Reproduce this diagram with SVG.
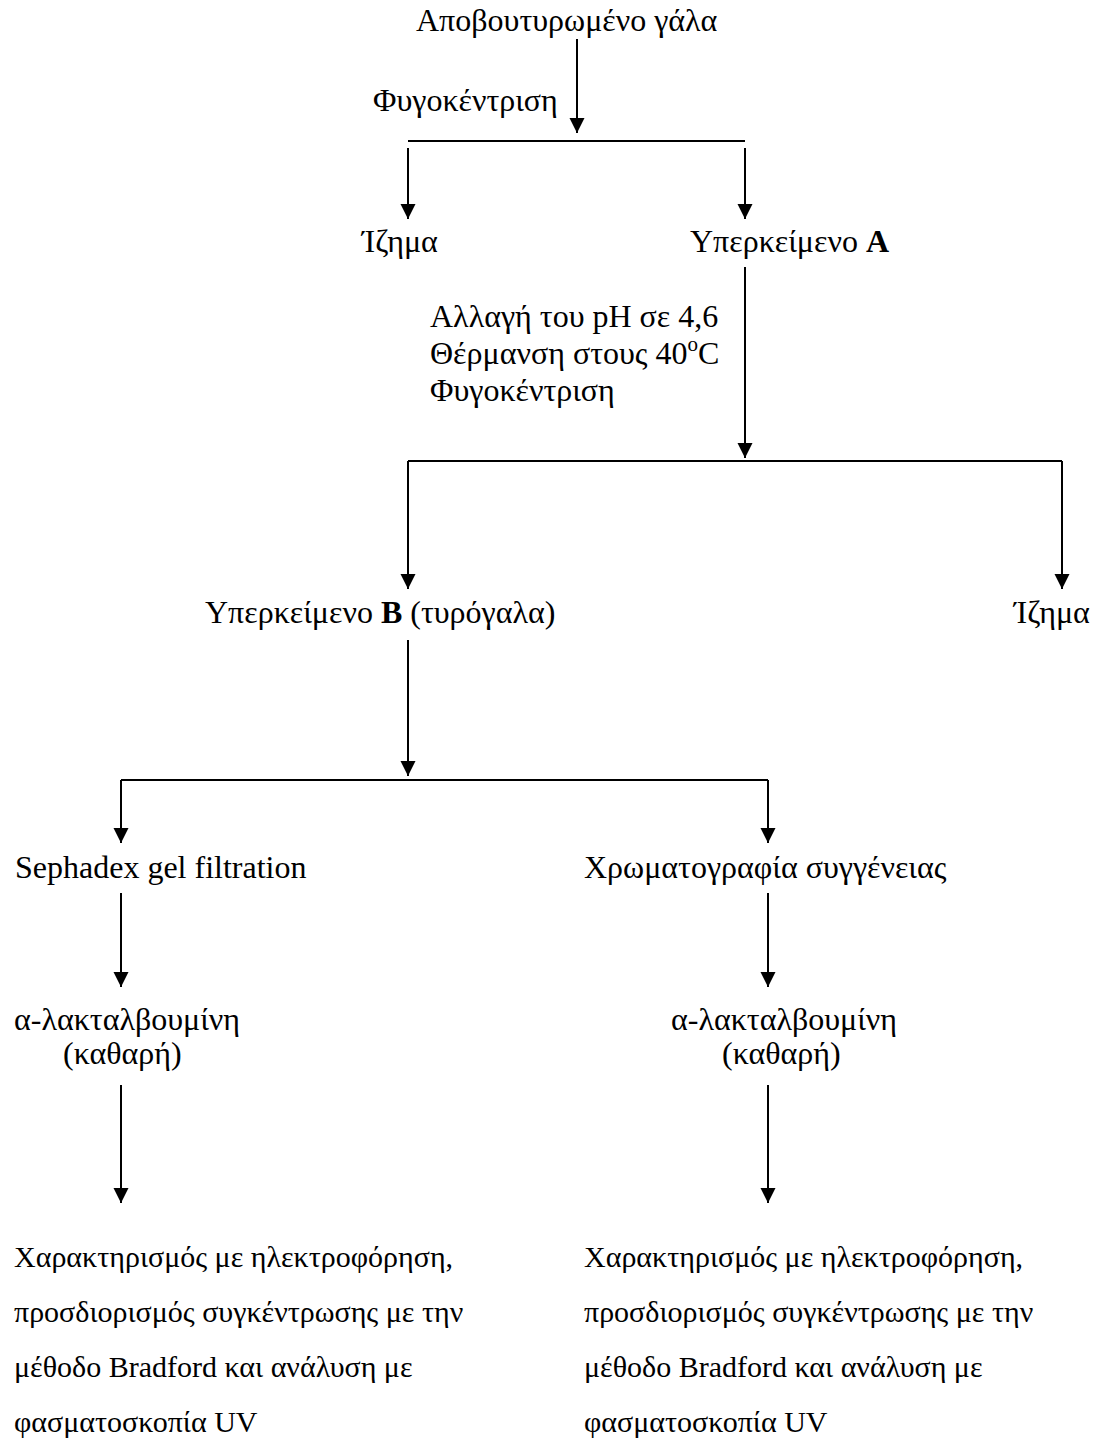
<svg xmlns="http://www.w3.org/2000/svg" width="1096" height="1440" viewBox="0 0 1096 1440">
<defs>
<style>
text{font-family:"Liberation Serif","Times New Roman",serif;font-size:32px;fill:#000}
text.p{font-size:30px}
.c line{stroke:#000;stroke-width:2;fill:none}
.b{font-weight:bold}
</style>
<marker id="ah" markerUnits="userSpaceOnUse" markerWidth="16" markerHeight="16" refX="15" refY="7.5" orient="auto">
<path d="M0,0 L15,7.5 L0,15 z" fill="#000"/>
</marker>
</defs>
<rect width="1096" height="1440" fill="#fff"/>
<g class="c" id="connectors">
<line x1="577" y1="39" x2="577" y2="133" marker-end="url(#ah)"/>
<line x1="408" y1="141" x2="745" y2="141"/>
<line x1="408" y1="148" x2="408" y2="219" marker-end="url(#ah)"/>
<line x1="745" y1="148" x2="745" y2="219" marker-end="url(#ah)"/>
<line x1="745" y1="267" x2="745" y2="458" marker-end="url(#ah)"/>
<line x1="408" y1="461" x2="1062" y2="461"/>
<line x1="408" y1="461" x2="408" y2="589" marker-end="url(#ah)"/>
<line x1="1062" y1="461" x2="1062" y2="589" marker-end="url(#ah)"/>
<line x1="408" y1="640" x2="408" y2="776" marker-end="url(#ah)"/>
<line x1="121" y1="780" x2="768" y2="780"/>
<line x1="121" y1="780" x2="121" y2="843" marker-end="url(#ah)"/>
<line x1="768" y1="780" x2="768" y2="843" marker-end="url(#ah)"/>
<line x1="121" y1="893" x2="121" y2="987" marker-end="url(#ah)"/>
<line x1="768" y1="893" x2="768" y2="987" marker-end="url(#ah)"/>
<line x1="121" y1="1085" x2="121" y2="1203" marker-end="url(#ah)"/>
<line x1="768" y1="1085" x2="768" y2="1203" marker-end="url(#ah)"/>
</g>
<g id="n-milk"><text x="416" y="31">Αποβουτυρωμένο γάλα</text></g>
<g id="l-centrifuge1"><text x="373" y="111">Φυγοκέντριση</text></g>
<g id="n-pellet1"><text x="362" y="252">Ίζημα</text></g>
<g id="n-supA"><text x="690" y="252">Υπερκείμενο <tspan class="b">A</tspan></text></g>
<g id="l-steps">
<text x="430" y="327">Αλλαγή του pH σε 4,6</text>
<text x="430" y="364">Θέρμανση στους 40<tspan font-size="21" dy="-13">o</tspan><tspan dy="13">C</tspan></text>
<text x="430" y="401">Φυγοκέντριση</text>
</g>
<g id="n-supB"><text x="205" y="623">Υπερκείμενο <tspan class="b">B</tspan> (τυρόγαλα)</text></g>
<g id="n-pellet2"><text x="1014" y="623">Ίζημα</text></g>
<g id="n-sephadex"><text x="15" y="878">Sephadex gel filtration</text></g>
<g id="n-affinity"><text x="584" y="878">Χρωματογραφία συγγένειας</text></g>
<g id="n-lact1">
<text x="14" y="1030">α-λακταλβουμίνη</text>
<text x="63" y="1064">(καθαρή)</text>
</g>
<g id="n-lact2">
<text x="671" y="1030">α-λακταλβουμίνη</text>
<text x="722" y="1064">(καθαρή)</text>
</g>
<g id="n-char1">
<text class="p" x="14" y="1267">Χαρακτηρισμός με ηλεκτροφόρηση,</text>
<text class="p" x="14" y="1322">προσδιορισμός συγκέντρωσης με την</text>
<text class="p" x="14" y="1377">μέθοδο Bradford και ανάλυση με</text>
<text class="p" x="14" y="1432">φασματοσκοπία UV</text>
</g>
<g id="n-char2">
<text class="p" x="584" y="1267">Χαρακτηρισμός με ηλεκτροφόρηση,</text>
<text class="p" x="584" y="1322">προσδιορισμός συγκέντρωσης με την</text>
<text class="p" x="584" y="1377">μέθοδο Bradford και ανάλυση με</text>
<text class="p" x="584" y="1432">φασματοσκοπία UV</text>
</g>
</svg>
